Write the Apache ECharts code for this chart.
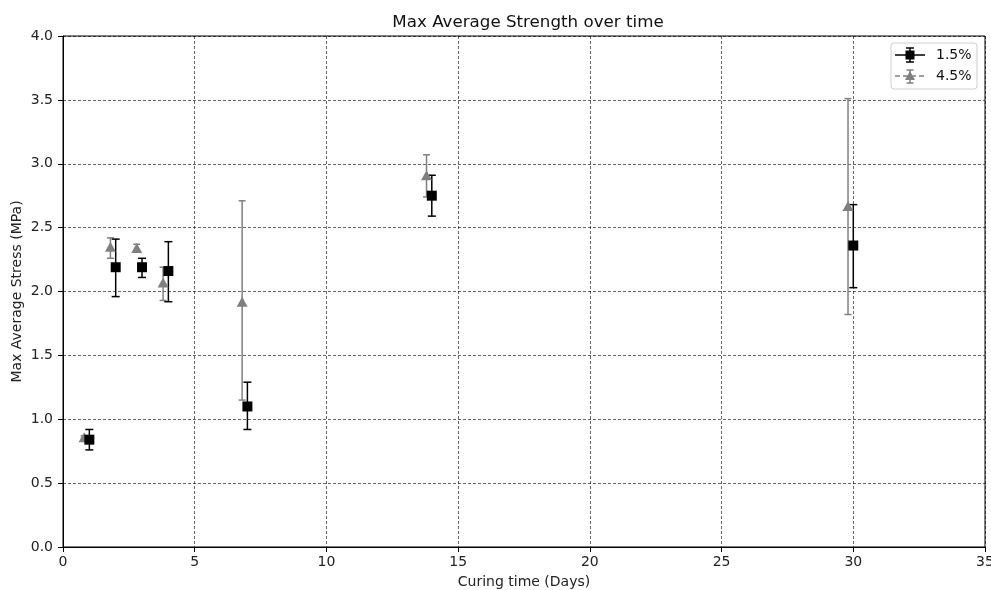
<!DOCTYPE html>
<html><head><meta charset="utf-8">
<script src="https://cdn.jsdelivr.net/npm/echarts@6/dist/echarts.min.js"></script>
<style>html,body{margin:0;padding:0;background:#fff}#c{width:991px;height:590px}</style>
</head><body><div id="c"></div>
<script>
const days15 = [1, 2, 3, 4, 7, 14, 30];
const mean15 = [0.84, 2.19, 2.19, 2.16, 1.10, 2.75, 2.36];
const low15  = [0.76, 1.96, 2.11, 1.92, 0.92, 2.59, 2.03];
const high15 = [0.92, 2.41, 2.26, 2.39, 1.29, 2.91, 2.68];

const days45 = [0.8, 1.8, 2.8, 3.8, 6.8, 13.8, 29.8];
const mean45 = [0.86, 2.35, 2.34, 2.07, 1.92, 2.91, 2.67];
const low45  = [0.85, 2.26, 2.32, 1.93, 1.15, 2.74, 1.82];
const high45 = [0.87, 2.42, 2.37, 2.19, 2.71, 3.07, 3.51];

const xTicks = [0, 5, 10, 15, 20, 25, 30, 35];
const yTicks = [0, 0.5, 1, 1.5, 2, 2.5, 3, 3.5, 4];
const seriesNames = ['1.5%', '4.5%'];

const FONT = 'DejaVu Sans';
const chart = echarts.init(document.getElementById('c'), null, {renderer: 'canvas'});

function errSeries(days, low, high, color, cap) {
  return {
    type: 'custom',
    data: days.map((d, i) => [d, low[i], high[i]]),
    renderItem: function (params, api) {
      const x = api.value(0);
      const p1 = api.coord([x, api.value(1)]);
      const p2 = api.coord([x, api.value(2)]);
      const st = {stroke: color, lineWidth: 1.5};
      return {type: 'group', children: [
        {type: 'line', shape: {x1: p1[0], y1: p1[1], x2: p2[0], y2: p2[1]}, style: st},
        {type: 'line', shape: {x1: p1[0] - cap, y1: p1[1], x2: p1[0] + cap, y2: p1[1]}, style: st},
        {type: 'line', shape: {x1: p2[0] - cap, y1: p2[1], x2: p2[0] + cap, y2: p2[1]}, style: st}
      ]};
    },
    silent: true, z: 3
  };
}

const axisCommon = {
  axisLine: {show: true, onZero: false, lineStyle: {color: '#000', width: 1}},
  axisTick: {show: true, inside: false, length: 5, lineStyle: {color: '#000'}},
  axisLabel: {color: '#222', fontFamily: FONT, fontSize: 14},
  splitLine: {show: true, lineStyle: {color: '#000', width: 0.6, type: [3, 2]}},
  nameTextStyle: {color: '#222', fontFamily: FONT, fontSize: 14},
  nameMoveOverlap: false
};

chart.setOption({
  animation: false,
  backgroundColor: '#fff',
  title: {text: 'Max Average Strength over time', left: 523, top: 9, textAlign: 'center',
    textStyle: {fontFamily: FONT, fontSize: 16.7, fontWeight: 'normal', color: '#111'}},
  grid: {left: 63, right: 6, top: 36, bottom: 43, show: true, borderColor: '#000', borderWidth: 1,
    containLabel: false, outerBoundsMode: 'none'},
  xAxis: Object.assign({}, axisCommon, {
    type: 'value', min: xTicks[0], max: xTicks[xTicks.length - 1], interval: 5,
    name: 'Curing time (Days)', nameLocation: 'middle', nameGap: 28,
    axisLabel: Object.assign({}, axisCommon.axisLabel, {margin: 8})
  }),
  yAxis: Object.assign({}, axisCommon, {
    type: 'value', min: yTicks[0], max: yTicks[yTicks.length - 1], interval: 0.5,
    name: 'Max Average Stress (MPa)', nameLocation: 'middle', nameGap: 39, nameRotate: 90,
    axisLabel: Object.assign({}, axisCommon.axisLabel, {margin: 10, formatter: v => v.toFixed(1)})
  }),
  series: [
    errSeries(days45, low45, high45, '#808080', 3.5),
    {type: 'scatter', name: seriesNames[1], data: days45.map((d, i) => [d, mean45[i]]),
      symbol: 'triangle', symbolSize: [11, 10], itemStyle: {color: '#808080', opacity: 1}, z: 4},
    errSeries(days15, low15, high15, '#000000', 4),
    {type: 'scatter', name: seriesNames[0], data: days15.map((d, i) => [d, mean15[i]]),
      symbol: 'rect', symbolSize: 10, itemStyle: {color: '#000000', opacity: 1}, z: 5}
  ],
  graphic: [
    {type: 'rect', shape: {x: 891, y: 43, width: 86, height: 46, r: 3},
      style: {fill: 'rgba(255,255,255,0.8)', stroke: '#d0d0d0', lineWidth: 1}, z: 10},
    {type: 'line', shape: {x1: 895, y1: 55, x2: 925, y2: 55}, style: {stroke: '#000', lineWidth: 1.5}, z: 11},
    {type: 'line', shape: {x1: 910, y1: 48, x2: 910, y2: 62}, style: {stroke: '#000', lineWidth: 1.5}, z: 11},
    {type: 'line', shape: {x1: 906, y1: 48, x2: 914, y2: 48}, style: {stroke: '#000', lineWidth: 1.5}, z: 11},
    {type: 'line', shape: {x1: 906, y1: 62, x2: 914, y2: 62}, style: {stroke: '#000', lineWidth: 1.5}, z: 11},
    {type: 'rect', shape: {x: 905.5, y: 50.5, width: 9, height: 9}, style: {fill: '#000'}, z: 12},
    {type: 'text', style: {x: 936, y: 55, text: seriesNames[0], fontFamily: FONT, fontSize: 14, fill: '#111', verticalAlign: 'middle'}, z: 12},
    {type: 'line', shape: {x1: 895, y1: 76, x2: 925, y2: 76}, style: {stroke: '#808080', lineWidth: 1.5, lineDash: [5, 3]}, z: 11},
    {type: 'line', shape: {x1: 910, y1: 70, x2: 910, y2: 83}, style: {stroke: '#808080', lineWidth: 1.5}, z: 11},
    {type: 'line', shape: {x1: 906.5, y1: 70, x2: 913.5, y2: 70}, style: {stroke: '#808080', lineWidth: 1.5}, z: 11},
    {type: 'line', shape: {x1: 906.5, y1: 83, x2: 913.5, y2: 83}, style: {stroke: '#808080', lineWidth: 1.5}, z: 11},
    {type: 'polygon', shape: {points: [[910, 71], [915, 80], [905, 80]]}, style: {fill: '#808080'}, z: 12},
    {type: 'text', style: {x: 936, y: 76, text: seriesNames[1], fontFamily: FONT, fontSize: 14, fill: '#111', verticalAlign: 'middle'}, z: 12}
  ]
});
</script></body></html>
